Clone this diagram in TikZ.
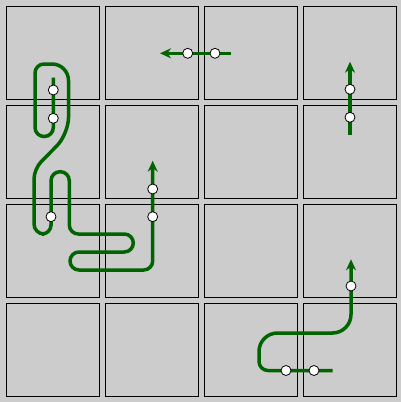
\documentclass[tikz,border=0pt]{standalone}
\usepackage{xcolor}
\usepackage{tikz}
\usetikzlibrary{arrows.meta}
\definecolor{panel}{HTML}{CCCCCC}
\definecolor{wire}{HTML}{006400}
\pgfdeclarelayer{back}
\pgfsetlayers{back,main}

\begin{document}
\begin{tikzpicture}[
  x=1pt, y=-1pt,
  cell/.style={rectangle, draw=black, fill=panel, line width=1.2pt, minimum size=93pt, inner sep=0pt},
  port/.style={circle, draw=black, fill=white, line width=0.8pt, minimum size=10pt, inner sep=0pt},
  route/.style={draw=wire, line width=3.5pt, rounded corners=9pt},
  arrow/.style={route, -{Stealth[length=11pt, width=10pt]}},
]

  % ports
  \node[port] (a1) at (53.3,90) {};
  \node[port] (a2) at (53.3,118.3) {};
  \node[port] (a3) at (51,216.7) {};
  \node[port] (a4) at (152.7,216.7) {};
  \node[port] (a5) at (152.7,189) {};
  \node[port] (b1) at (215,53.3) {};
  \node[port] (b2) at (187.7,53.3) {};
  \node[port] (d1) at (350,117.3) {};
  \node[port] (d2) at (350,89.3) {};
  \node[port] (e1) at (314,370.5) {};
  \node[port] (e2) at (286,370.5) {};
  \node[port] (e3) at (351,286) {};

  \coordinate (astart) at (53.3,77.5);
  \coordinate (aend) at (152.7,160.7);
  \coordinate (bstart) at (230.7,53.3);
  \coordinate (bend) at (160,53.3);
  \coordinate (dstart) at (350,135);
  \coordinate (dend) at (350,61.7);
  \coordinate (estart) at (332.7,370.5);
  \coordinate (eend) at (351,259.3);

  \begin{pgfonlayer}{back}
  \fill[panel] (0,0) rectangle (401,402);

  % grid of cells
  \foreach \i in {0,...,3}
    \foreach \j in {0,...,3}
      \node[cell] (c\i\j) at (53+99*\i, 53+99*\j) {};

  \draw[arrow] (astart) -- (a1.center) -- (a2.center) -- (53.3,136.5) -- (35,136.5)
    -- (35,64) [rounded corners=16.5pt] -- (68.5,64)
    -- (68.5,134) [rounded corners=10pt] -- (34,169)
    -- (34,234) [rounded corners=9pt] -- (51,234) -- (a3.center) -- (51,171.7) -- (69.3,171.7)
    -- (69.3,234) -- (133.3,234) -- (133.3,252) -- (70,252) -- (70,270)
    -- (152.7,270) [rounded corners=20pt] -- (a4.center) -- (a5.center) -- (aend);
  \draw[arrow] (bstart) -- (b1.center) -- (b2.center) -- (bend);
  \draw[arrow] (dstart) -- (d1.center) -- (d2.center) -- (dend);
  \draw[arrow] (estart) -- (e1.center) -- (e2.center)
    -- (259,370.5) [rounded corners=18.5pt] -- (259,333)
    -- (351,333) [rounded corners=9pt] -- (e3.center) -- (eend);
  \end{pgfonlayer}

  \useasboundingbox (0,0) rectangle (401,402);

\end{tikzpicture}
\end{document}
